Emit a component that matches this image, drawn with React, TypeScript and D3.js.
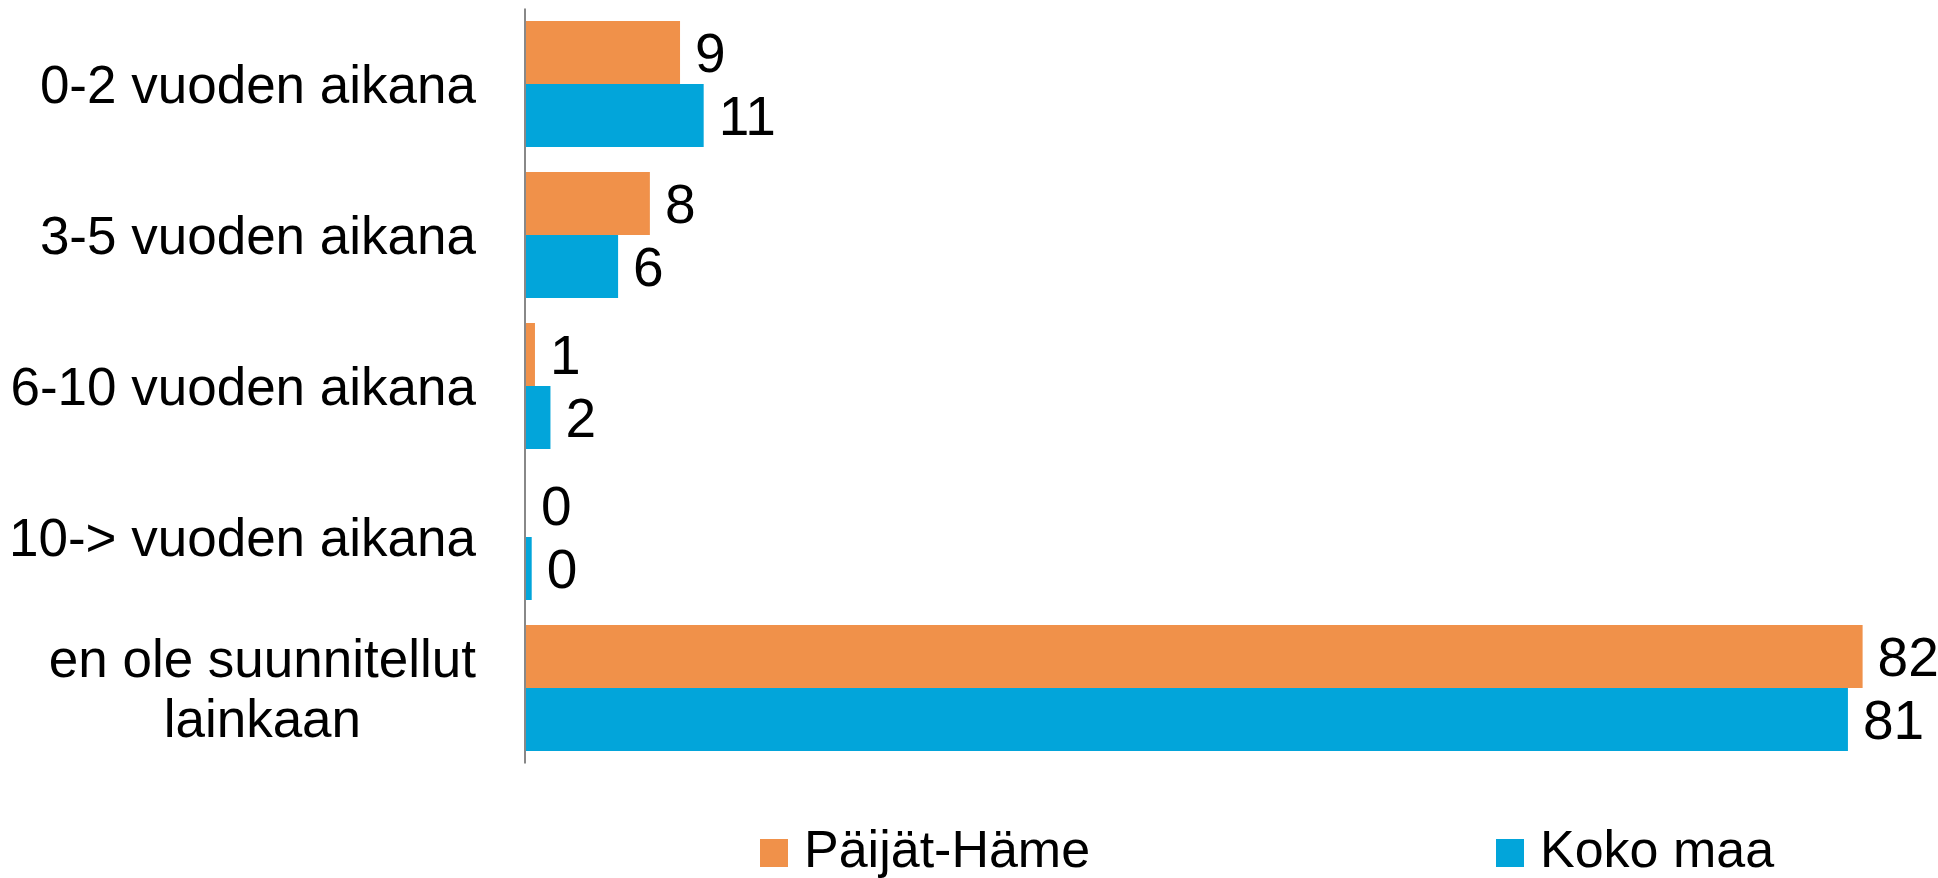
import React, { useEffect, useRef } from "react";
import * as d3 from "d3";

const categories: string[][] = [
  ["0-2 vuoden aikana"],
  ["3-5 vuoden aikana"],
  ["6-10 vuoden aikana"],
  ["10-> vuoden aikana"],
  ["en ole suunnitellut", "lainkaan"],
];
const seriesNames = ["Päijät-Häme", "Koko maa"];
const paijatHame = [9.45, 7.6, 0.55, 0, 82.0];
const kokoMaa = [10.9, 5.65, 1.5, 0.35, 81.1];
const paijatHameLabels = ["9", "8", "1", "0", "82"];
const kokoMaaLabels = ["11", "6", "2", "0", "81"];
const colors = ["#F0914A", "#02A5DA"];

const W = 1938;
const H = 878;
const FONT = "'Liberation Sans', Arial, sans-serif";

export default function App() {
  const ref = useRef<SVGSVGElement>(null);

  useEffect(() => {
    const svg = d3.select(ref.current);
    svg.selectAll("*").remove();

    const x0 = 526;
    const x = d3.scaleLinear().domain([0, 100]).range([x0, x0 + 1630]);
    const y = d3
      .scaleBand<number>()
      .domain(d3.range(categories.length))
      .range([8.5, 763.5])
      .paddingInner(25 / 151)
      .paddingOuter(12.5 / 151);
    const ys = d3.scaleBand<number>().domain([0, 1]).range([0, y.bandwidth()]);

    const series = [
      { values: paijatHame, labels: paijatHameLabels },
      { values: kokoMaa, labels: kokoMaaLabels },
    ];

    series.forEach((s, si) => {
      const g = svg.append("g");
      g.selectAll("rect")
        .data(s.values)
        .join("rect")
        .attr("x", x(0))
        .attr("y", (_, i) => (y(i) as number) + (ys(si) as number))
        .attr("width", (d) => x(d) - x(0))
        .attr("height", ys.bandwidth())
        .attr("fill", colors[si]);
      g.selectAll("text")
        .data(s.values)
        .join("text")
        .attr("x", (d) => x(d) + 15)
        .attr("y", (_, i) => (y(i) as number) + (ys(si) as number) + ys.bandwidth() / 2)
        .attr("dy", "0.36em")
        .attr("font-family", FONT)
        .attr("font-size", 55)
        .attr("fill", "#000")
        .text((_, i) => s.labels[i]);
    });

    // axis line
    svg
      .append("line")
      .attr("x1", 525)
      .attr("x2", 525)
      .attr("y1", y.range()[0])
      .attr("y2", y.range()[1])
      .attr("stroke", "#888")
      .attr("stroke-width", 2);

    // category labels
    const labelRight = 476;
    const lineH = 60;
    const fs = 53;
    categories.forEach((lines, i) => {
      const cy = (y(i) as number) + y.bandwidth() / 2;
      const base = cy + 0.36 * fs - ((lines.length - 1) * lineH) / 2;
      if (lines.length === 1) {
        svg
          .append("text")
          .attr("x", labelRight)
          .attr("y", base)
          .attr("text-anchor", "end")
          .attr("font-family", FONT)
          .attr("font-size", fs)
          .text(lines[0]);
      } else {
        const texts = lines.map((l, li) =>
          svg
            .append("text")
            .attr("y", base + li * lineH)
            .attr("text-anchor", "middle")
            .attr("font-family", FONT)
            .attr("font-size", fs)
            .text(l)
        );
        const widths = texts.map((t) => (t.node() as SVGTextElement).getComputedTextLength());
        const maxW = Math.max(...widths);
        texts.forEach((t) => t.attr("x", labelRight - maxW / 2));
      }
    });

    // legend
    const legendX = [760, 1496];
    seriesNames.forEach((name, i) => {
      svg
        .append("rect")
        .attr("x", legendX[i])
        .attr("y", 839)
        .attr("width", 28)
        .attr("height", 28)
        .attr("fill", colors[i]);
      svg
        .append("text")
        .attr("x", legendX[i] + 44)
        .attr("y", 867)
        .attr("font-family", FONT)
        .attr("font-size", 52)
        .text(name);
    });
  }, []);

  return (
    <svg
      ref={ref}
      width={W}
      height={H}
      style={{ position: "absolute", left: 0, top: 0, background: "#fff" }}
    />
  );
}
